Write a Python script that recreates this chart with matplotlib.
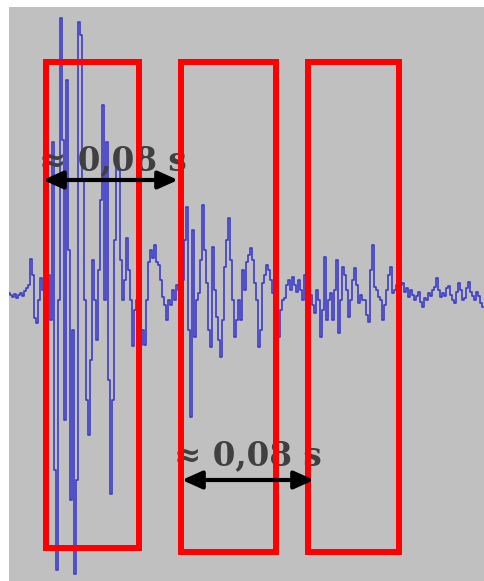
import numpy as np
import matplotlib
matplotlib.use('Agg')
import matplotlib.pyplot as plt
from matplotlib.patches import Rectangle

# waveform amplitude, one value per sample
amplitude = [
    # quiet start
    -1, -3, -5, -2, -6, -3, -1, -4, 1, 4, 7, 33, 17, -26, -31, -8, 14, 2,
    # first burst
    12, -8, 17, -28, 150, -178, -278, -8, 274, 152, -128, 212, 42, -208, -38,
    -282, -188, 270, 257, 112, -8, -108, -143, -68, 32, -8, -48, 22, 92, 187,
    -8, 150, -88, -202, -108, 52, 142, 122, 32, -8, 12, 54, 22, -8, -54, -18,
    -8, -28, -53,
    # gap
    -38, -53, -8, 30, 42, 34, 47, 30, 27, 12, -5, -13, -28, -8, -13, 2, -8, 7,
    # second burst
    2, -8, 12, 52, 85, -38, -125, 62, -45, -8, -1, 32, 87, 42, 9, -38, -55, 45,
    2, -25, -48, -65, -28, 25, 52, 74, 32, -8, -45, -28, -8, -28, 22, 2, 30,
    37, 44, 32, 9, -8, -55, -38, 9, 17, 27, 22, 12, -1, -8, 2, -45,
    # gap
    -18, -8, -6, 7, 12, 2, 15, 7, 0, 12, 2, -8, 17,
    # third burst
    19, -8, -3, -13, -21, 2, -8, -45, -18, 35, -28, -8, -1, -28, 2, 32, -41,
    -8, 25, 17, 2, -25, -8, 12, 24, 7, -11, -3, -8, -8, -23, -30, 22, 47, 5,
    2, -5, -8, -28, -13, 2, 17, 25, -1, 2, 7,
    # tail
    -3, 7, 9, 0, 4, -5, 2, -3, -8, -4, 0, -10, -15, -6, -8, -1, -4, 2, 5, 14,
    2, -5, -1, -4, 4, 6, -3, -8, -11, 0, 9, 2, -8, -6, 4, 10, 0, -4, -8, 0,
    -4, -11, -15,
]

# analysis windows (sample index / amplitude)
win_start = [18.5, 86, 149.75]
win_end = [65, 133.75, 195]
win_top = [230, 230, 230]
win_bottom = [-256, -260, -260]

# period arrows
arrow_start = [17, 86.5]
arrow_end = [84.5, 152.5]
arrow_level = [112, -188]
label_x = [51.75, 119.5]
label_y = [122, -173]
labels = ['≈ 0,08 s', '≈ 0,08 s']

samples = np.arange(len(amplitude))

fig = plt.figure(figsize=(4.85, 5.81), dpi=100, facecolor='white')
ax = fig.add_axes([9 / 485, 0, 476 / 485, 574 / 581])
ax.set_facecolor('#c0c0c0')

ax.plot(samples, amplitude, color='#3c3cc8', lw=1.2, drawstyle='steps-mid', zorder=2)

for s, e, t, b in zip(win_start, win_end, win_top, win_bottom):
    ax.add_patch(Rectangle((s, b), e - s, t - b, fill=False, edgecolor='#ff0000',
                           lw=4.3, zorder=4))

for x, y, txt in zip(label_x, label_y, labels):
    ax.text(x, y, txt, ha='center', va='baseline', fontsize=23.5,
            family='DejaVu Serif', weight='bold', color='#404040', zorder=3)

for s, e, y in zip(arrow_start, arrow_end, arrow_level):
    ax.annotate('', xy=(e, y), xytext=(s, y),
                arrowprops=dict(arrowstyle='<|-|>,head_length=0.8,head_width=0.36',
                                mutation_scale=15, lw=3, color='black',
                                shrinkA=0, shrinkB=0), zorder=5)

ax.set_xlim(0, 238)
ax.set_ylim(-289, 285)
ax.set_xticks([])
ax.set_yticks([])
for sp in ax.spines.values():
    sp.set_visible(False)

fig.savefig('out.png', dpi=100, facecolor='white')
